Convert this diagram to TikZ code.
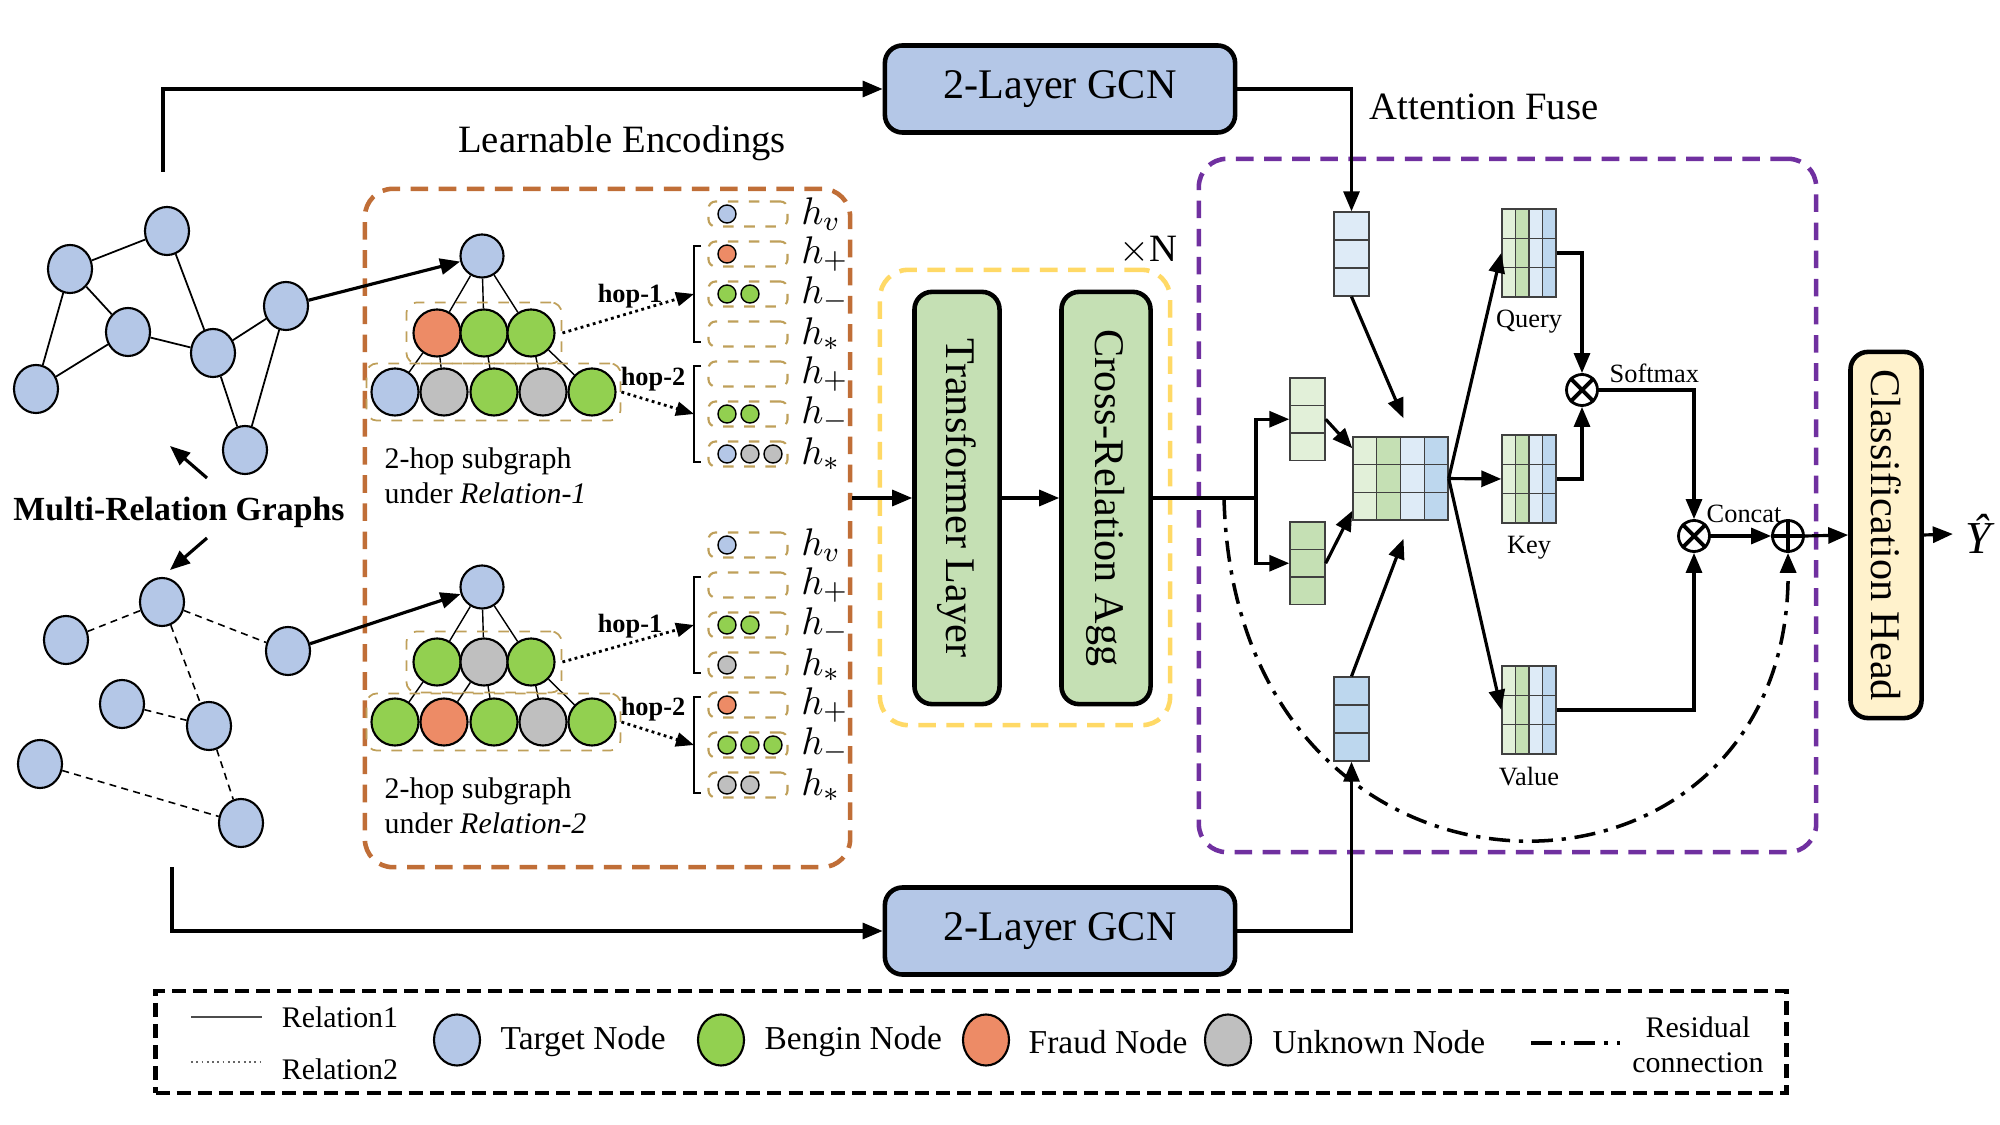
\documentclass[tikz,border=0pt]{standalone}
\usepackage{fontspec}
\setmainfont{Liberation Serif}
\usetikzlibrary{arrows.meta,positioning,calc,fit,shapes.geometric}
\definecolor{nb}{RGB}{180,199,231}
\definecolor{ng}{RGB}{146,208,80}
\definecolor{no}{RGB}{237,139,102}
\definecolor{nk}{RGB}{191,191,191}
\definecolor{trf}{RGB}{197,224,180}
\definecolor{hd}{RGB}{255,242,204}
\definecolor{brn}{RGB}{192,110,55}
\definecolor{ylw}{RGB}{255,217,102}
\definecolor{prp}{RGB}{112,48,160}
\definecolor{olv}{RGB}{191,160,90}
\definecolor{lg}{RGB}{226,240,217}
\definecolor{dg}{RGB}{197,224,180}
\definecolor{lb}{RGB}{222,235,247}
\definecolor{db}{RGB}{189,215,238}
\tikzset{gn/.style={draw,ellipse,fill=nb,minimum width=4.4mm,minimum height=4.8mm,inner sep=0pt,line width=.6pt},
 tn/.style={draw,circle,minimum size=4.7mm,inner sep=0pt,line width=.6pt},
 sn/.style={draw,circle,minimum size=1.8mm,inner sep=0pt,line width=.4pt},
 ebox/.style={draw=olv,dashed,rounded corners=2pt,minimum width=7.9mm,minimum height=2.5mm,inner sep=0pt,line width=.6pt},
 grp/.style={draw=olv,dashed,rounded corners=3pt,line width=.5pt},
 outer/.style={dash pattern=on 5pt off 3pt,rounded corners=8pt,line width=1.3pt,inner sep=0pt},
 blk/.style={draw,rounded corners=5pt,line width=1.3pt,inner sep=0pt},
 arr/.style={-{Triangle[length=2mm,width=1.6mm]},line width=.9pt},
 dotarr/.style={-{Triangle[length=1.8mm,width=1.4mm]},densely dotted,line width=.8pt},
 resid/.style={line width=1pt,dash pattern=on 6pt off 2.5pt on 1.2pt off 2.5pt},
 cell/.style={draw=black!75,line width=.4pt},
 op/.style={draw,circle,minimum size=3.1mm,inner sep=0pt,line width=.8pt},
 fbig/.style={font=\fontsize{12}{14}\selectfont},
 fmid/.style={font=\fontsize{11}{13}\selectfont},
 fsub/.style={font=\fontsize{8.5}{10}\selectfont},
 fleg/.style={font=\fontsize{8.5}{10}\selectfont},
 flegb/.style={font=\fontsize{9.5}{11}\selectfont},
 fsmall/.style={font=\fontsize{7.5}{9}\selectfont},
 fhop/.style={font=\bfseries\fontsize{7.5}{9}\selectfont},
 fmath/.style={font=\fontsize{11}{13}\selectfont,inner sep=0pt}}
% one column vector, three cells
\newcommand\vecgrid[5]{%
 \foreach \r in {0,1,2} \draw[cell,fill=#4] (#2,{#3+\r*#5}) rectangle ++(35,#5);
 \coordinate (#1-a) at (#2,#3); \coordinate (#1-b) at ({#2+35},{#3+3*#5});
 \node[fit=(#1-a)(#1-b),inner sep=0pt] (#1) {};}
% four column matrix, three rows
\newcommand\qkvgrid[5]{%
 \foreach \cc/\cf in {0/lg,1/dg,2/lb,3/db} \foreach \r in {0,1,2}
  \draw[cell,fill=\cf] ({#2+\cc*#4},{#3+\r*#5}) rectangle ++(#4,#5);
 \coordinate (#1-a) at (#2,#3); \coordinate (#1-b) at ({#2+4*#4},{#3+3*#5});
 \node[fit=(#1-a)(#1-b),inner sep=0pt] (#1) {};}
% encoding row: name, y, subscript, fills
\newcommand\erow[4]{%
 \node[ebox] (#1) at (748,#2) {};
 \node[fmath,right=1.2mm of #1] (#1h) {$h_{#3}$};
 \ifx\relax#4\relax\else
 \foreach \cf [count=\k from 0] in {#4} \node[sn,fill=\cf] (#1c\k) at ({727+23*\k},#2) {};\fi}

\begin{document}
\begin{tikzpicture}[x=0.01cm,y=-0.01cm]
\useasboundingbox (0,0) rectangle (2000,1125);
% multi-relation graphs
\foreach \n/\x/\y in {a/167/231,b/70/269,c/128/332,d/213/353,e/286/306,f/36/389,g/245/450}
 \node[gn] (g\n) at (\x,\y) {};
\foreach \u/\v in {a/b,a/d,b/c,b/f,c/d,c/f,d/e,d/g,e/g} \draw[line width=.5pt] (g\u)--(g\v);
\foreach \n/\x/\y in {p/162/602,q/66/640,r/288/651,s/122/704,t/209/726,u/40/764,v/241/823}
 \node[gn] (k\n) at (\x,\y) {};
\foreach \u/\v in {q/p,p/r,p/t,s/t,t/v,u/v} \draw[dash pattern=on 2pt off 1.5pt,line width=.45pt] (k\u)--(k\v);
\node[font=\bfseries\fontsize{9.6}{11}\selectfont] (mrg) at (179,512) {Multi-Relation Graphs};
\coordinate (mu1) at (207,478); \coordinate (mu2) at (170,446);
\coordinate (md1) at (207,538); \coordinate (md2) at (170,570);
\draw[arr] (mu1)--(mu2); \draw[arr] (md1)--(md2);
% GCN branches
\node[blk,fill=nb,minimum width=35mm,minimum height=8.7mm,fbig] (gcn1) at (1060,89) {2-Layer GCN};
\node[blk,fill=nb,minimum width=35mm,minimum height=8.7mm,fbig] (gcn2) at (1060,931) {2-Layer GCN};
\coordinate (t0) at (163,172); \coordinate (b0) at (172,867);
\draw[arr] (t0) |- (gcn1.west);
\draw[arr] (b0) |- (gcn2.west);
% learnable encodings
\node[fmid] (le) at (622,143) {Learnable Encodings};
\node[outer,draw=brn,minimum width=48.5mm,minimum height=67.8mm] (enc) at (607.5,528) {};
\node[tn,fill=nb,minimum size=4.3mm] (r1) at (482,256) {};
\foreach \n/\x/\c in {1/437/no,2/484/ng,3/531/ng} \node[tn,fill=\c] (r1a\n) at (\x,333) {};
\foreach \n/\x/\c in {1/395/nb,2/444/nk,3/494/ng,4/543/nk,5/592/ng} \node[tn,fill=\c] (r1b\n) at (\x,392) {};
\foreach \n in {1,2,3} \draw[line width=.4pt] (r1)--(r1a\n);
\foreach \u/\v in {1/1,1/2,2/3,3/4,3/5} \draw[line width=.4pt] (r1a\u)--(r1b\v);
\node[grp,fit=(r1a1)(r1a3),inner sep=.6mm] (r1g1) {};
\node[grp,fit=(r1b1)(r1b5),inner sep=.4mm] (r1g2) {};
\node[tn,fill=nb,minimum size=4.3mm] (r2) at (482,587) {};
\foreach \n/\x/\c in {1/437/ng,2/484/nk,3/531/ng} \node[tn,fill=\c] (r2a\n) at (\x,662) {};
\foreach \n/\x/\c in {1/395/ng,2/444/no,3/494/ng,4/543/nk,5/592/ng} \node[tn,fill=\c] (r2b\n) at (\x,722) {};
\foreach \n in {1,2,3} \draw[line width=.4pt] (r2)--(r2a\n);
\foreach \u/\v in {1/1,2/2,2/3,3/4,3/5} \draw[line width=.4pt] (r2a\u)--(r2b\v);
\node[grp,fit=(r2a1)(r2a3),inner sep=.6mm] (r2g1) {};
\node[grp,fit=(r2b1)(r2b5),inner sep=.4mm] (r2g2) {};
\draw[arr] (ge)--(r1);
\draw[arr] (kr)--(r2);
\node[fsub,anchor=west,align=left,inner sep=0pt] (r1s) at (384,476) {2-hop subgraph\\under \textit{Relation-1}};
\node[fsub,anchor=west,align=left,inner sep=0pt] (r2s) at (384,806) {2-hop subgraph\\under \textit{Relation-2}};
\erow{r1e1}{214}{v}{nb}
\erow{r1e2}{254}{+}{no}
\erow{r1e3}{294}{-}{ng,ng}
\erow{r1e4}{334}{*}{}
\erow{r1e5}{374}{+}{}
\erow{r1e6}{414}{-}{ng,ng}
\erow{r1e7}{454}{*}{nb,nk,nk}
\erow{r2e1}{545}{v}{nb}
\erow{r2e2}{585}{+}{}
\erow{r2e3}{625}{-}{ng,ng}
\erow{r2e4}{665}{*}{nk}
\erow{r2e5}{705}{+}{no}
\erow{r2e6}{745}{-}{ng,ng,ng}
\erow{r2e7}{785}{*}{nk,nk}
\foreach \b/\ya/\yb in {r1k1/246/342,r1k2/366/462,r2k1/577/673,r2k2/697/793}{
 \draw[line width=.5pt] (701,\ya) -| (694,\yb) -- (701,\yb);
 \coordinate (\b) at (694,{(\ya+\yb)/2});}
\draw[dotarr] (r1g1.east)--(r1k1); \node[fhop] (r1h1) at (630,296) {hop-1};
\draw[dotarr] (r1g2.east)--(r1k2); \node[fhop] (r1h2) at (653,379) {hop-2};
\draw[dotarr] (r2g1.east)--(r2k1); \node[fhop] (r2h1) at (630,626) {hop-1};
\draw[dotarr] (r2g2.east)--(r2k2); \node[fhop] (r2h2) at (653,709) {hop-2};
% stacked layers
\node[outer,draw=ylw,minimum width=29mm,minimum height=45.5mm] (rep) at (1025,497.5) {};
\node[fmid] (xn) at (1148,250) {$\times$N};
\node[blk,fill=trf,minimum width=8.5mm,minimum height=41.2mm] (tl) at (957,498) {};
\node[fbig,rotate=-90] (tlt) at (tl) {Transformer Layer};
\node[blk,fill=trf,minimum width=8.9mm,minimum height=41.2mm] (cr) at (1106,498) {};
\node[fbig,rotate=-90] (crt) at (cr) {Cross-Relation Agg};
\draw[arr] (enc.east |- tl.west)--(tl.west);
\draw[arr] (tl.east)--(cr.west);
% attention fuse
\node[fmid] (af) at (1484,107) {Attention Fuse};
\node[outer,draw=prp,minimum width=61.7mm,minimum height=69.3mm] (att) at (1507.5,505.5) {};
\vecgrid{vtop}{1334}{212}{lb}{28}
\vecgrid{vbot}{1334}{677}{db}{28}
\vecgrid{vup}{1290}{378}{lg}{27.5}
\vecgrid{vdn}{1290}{522}{dg}{27.5}
\qkvgrid{mc}{1353}{437}{23.75}{27.7}
\qkvgrid{qm}{1502}{209}{13.5}{29.3}
\qkvgrid{km}{1502}{435}{13.5}{29.3}
\qkvgrid{vm}{1502}{666}{13.5}{29.3}
\node[fsmall,below=0pt of qm] (ql) {Query};
\node[fsmall,below=0pt of km] (kl) {Key};
\node[fsmall,below=0pt of vm] (vl) {Value};
\coordinate (sp) at (1256,498); \coordinate (rs) at (1224,498);
\draw[line width=.9pt] (cr.east)--(sp);
\draw[arr] (sp) |- (vup.west);
\draw[arr] (sp) |- (vdn.west);
\draw[arr] (gcn1.east) -| (vtop.north);
\draw[arr] (gcn2.east) -| (vbot.south);
\draw[arr] (vup.east)--($(mc.north west)+(0,12)$);
\draw[arr] (vdn.east)--($(mc.south west)+(0,-10)$);
\draw[arr] (vtop.south)--($(mc.north)+(3,-18)$);
\draw[arr] (vbot.north)--($(mc.south)+(3,18)$);
\draw[arr] (mc.east)--(qm.west);
\draw[arr] (mc.east)--(km.west);
\draw[arr] (mc.east)--(vm.west);
\node[op] (sm) at (1582,390) {};
\node[op] (cc) at (1694,536) {};
\node[op] (ad) at (1788,536) {};
\draw[line width=1.1pt] (sm.north west)--(sm.south east) (sm.north east)--(sm.south west);
\draw[line width=1.1pt] (cc.north west)--(cc.south east) (cc.north east)--(cc.south west);
\draw[line width=.9pt] (ad.north)--(ad.south) (ad.west)--(ad.east);
\node[fsmall,anchor=south west,inner sep=0pt] (sml) at (1609,383) {Softmax};
\node[fsmall,anchor=south west,inner sep=0pt] (ccl) at (1706,523) {Concat};
\draw[arr] (qm.east) -| (sm.north);
\draw[arr] (km.east) -| (sm.south);
\draw[arr] (sm.east) -| (cc.north);
\draw[arr] (vm.east) -| (cc.south);
\draw[arr] (cc.east)--(ad.west);
\draw[resid,-{Triangle[length=2mm,width=1.6mm]}] (rs) .. controls (1235,945) and (1790,940) .. (ad.south);
% head
\node[blk,fill=hd,minimum width=7.1mm,minimum height=36.6mm] (hd) at (1886,535) {};
\node[fbig,rotate=-90] (hdt) at (hd) {Classification Head};
\node[font=\itshape\fontsize{13}{15}\selectfont] (yh) at (1978,534) {Ŷ};
\draw[arr] (ad.east)--(hd.west);
\draw[arr] (hd.east)--(yh.west);
% legend
\node[draw,dash pattern=on 4pt off 2pt,line width=1.2pt,minimum width=163mm,minimum height=10.2mm] (leg) at (971,1042) {};
\coordinate (l1a) at (191,1017); \coordinate (l1b) at (262,1017);
\coordinate (l2a) at (191,1062); \coordinate (l2b) at (262,1062);
\draw[black!70,line width=.5pt] (l1a)--(l1b);
\draw[black!60,densely dotted,line width=.5pt] (l2a)--(l2b);
\node[fleg] (l1t) at (340,1017) {Relation1};
\node[fleg] (l2t) at (340,1069) {Relation2};
\foreach \n/\x/\c/\t/\tx in {tg/457/nb/Target Node/500,bg/721/ng/Bengin Node/764,fr/986/no/Fraud Node/1028,uk/1228/nk/Unknown Node/1272}{
 \node[draw,ellipse,fill=\c,minimum width=4.6mm,minimum height=5.1mm,inner sep=0pt,line width=.6pt] (\n) at (\x,1040) {};
 \node[flegb,anchor=west,inner sep=0pt] (\n-t) at (\tx,1042) {\t};}
\coordinate (rca) at (1531,1043); \coordinate (rcb) at (1620,1043);
\draw[resid] (rca)--(rcb);
\node[fleg,align=center] (rct) at (1698,1045) {Residual\\connection};
\end{tikzpicture}
\end{document}
